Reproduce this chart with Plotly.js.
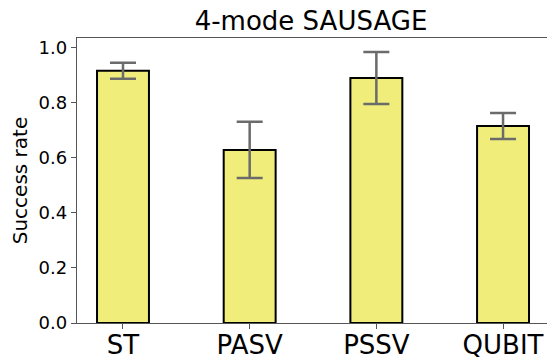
<!DOCTYPE html>
<html>
<head>
<meta charset="utf-8">
<script src="https://cdn.plot.ly/plotly-3.0.1.min.js"></script>
<style>html,body{margin:0;padding:0;background:#fff;}#chart{width:547px;height:362px;}</style>
</head>
<body>
<div id="chart"></div>
<script>
const categories = ["ST", "PASV", "PSSV", "QUBIT"];
const successRate = [0.915, 0.628, 0.889, 0.715];
const errorValues = [0.029, 0.102, 0.094, 0.047];
const yTickVals = [0.0, 0.2, 0.4, 0.6, 0.8, 1.0];
const yTickText = ["0.0", "0.2", "0.4", "0.6", "0.8", "1.0"];

const FONT = "DejaVu Sans";
const trace = {
  type: "bar",
  x: categories.map((c, i) => i),
  y: successRate,
  width: 0.41,
  marker: {color: "#F1ED7A", line: {color: "#000000", width: 2}},
  error_y: {type: "data", array: errorValues, visible: true, color: "#6b6b6b", thickness: 2.5, width: 13}
};
const layout = {
  width: 547, height: 362,
  margin: {l: 77, r: 0, t: 38, b: 39},
  paper_bgcolor: "#ffffff", plot_bgcolor: "#ffffff",
  showlegend: false,
  title: {text: "4-mode SAUSAGE", font: {family: FONT, size: 26, color: "#000"}, x: 311/547, xanchor: "center", y: 0.943, yanchor: "middle"},
  xaxis: {
    range: [-0.363, 3.347], tickmode: "array", tickvals: categories.map((c, i) => i), ticktext: categories,
    tickfont: {family: FONT, size: 26, color: "#000"}, ticks: "outside", ticklen: 5, tickcolor: "#555",
    ticklabelstandoff: -7,
    showline: true, linecolor: "#555", linewidth: 1.3, mirror: true, showgrid: false, zeroline: false, fixedrange: true
  },
  yaxis: {
    range: [0, 1.034], tickmode: "array", tickvals: yTickVals, ticktext: yTickText,
    tickfont: {family: FONT, size: 18, color: "#000"}, ticks: "outside", ticklen: 5, tickcolor: "#555",
    showline: true, linecolor: "#555", linewidth: 1.3, showgrid: false, zeroline: false,
    title: {text: "Success rate", font: {family: FONT, size: 20, color: "#000"}, standoff: 5}
  }
};
Plotly.newPlot("chart", [trace], layout, {staticPlot: true, displayModeBar: false});
</script>
</body>
</html>
